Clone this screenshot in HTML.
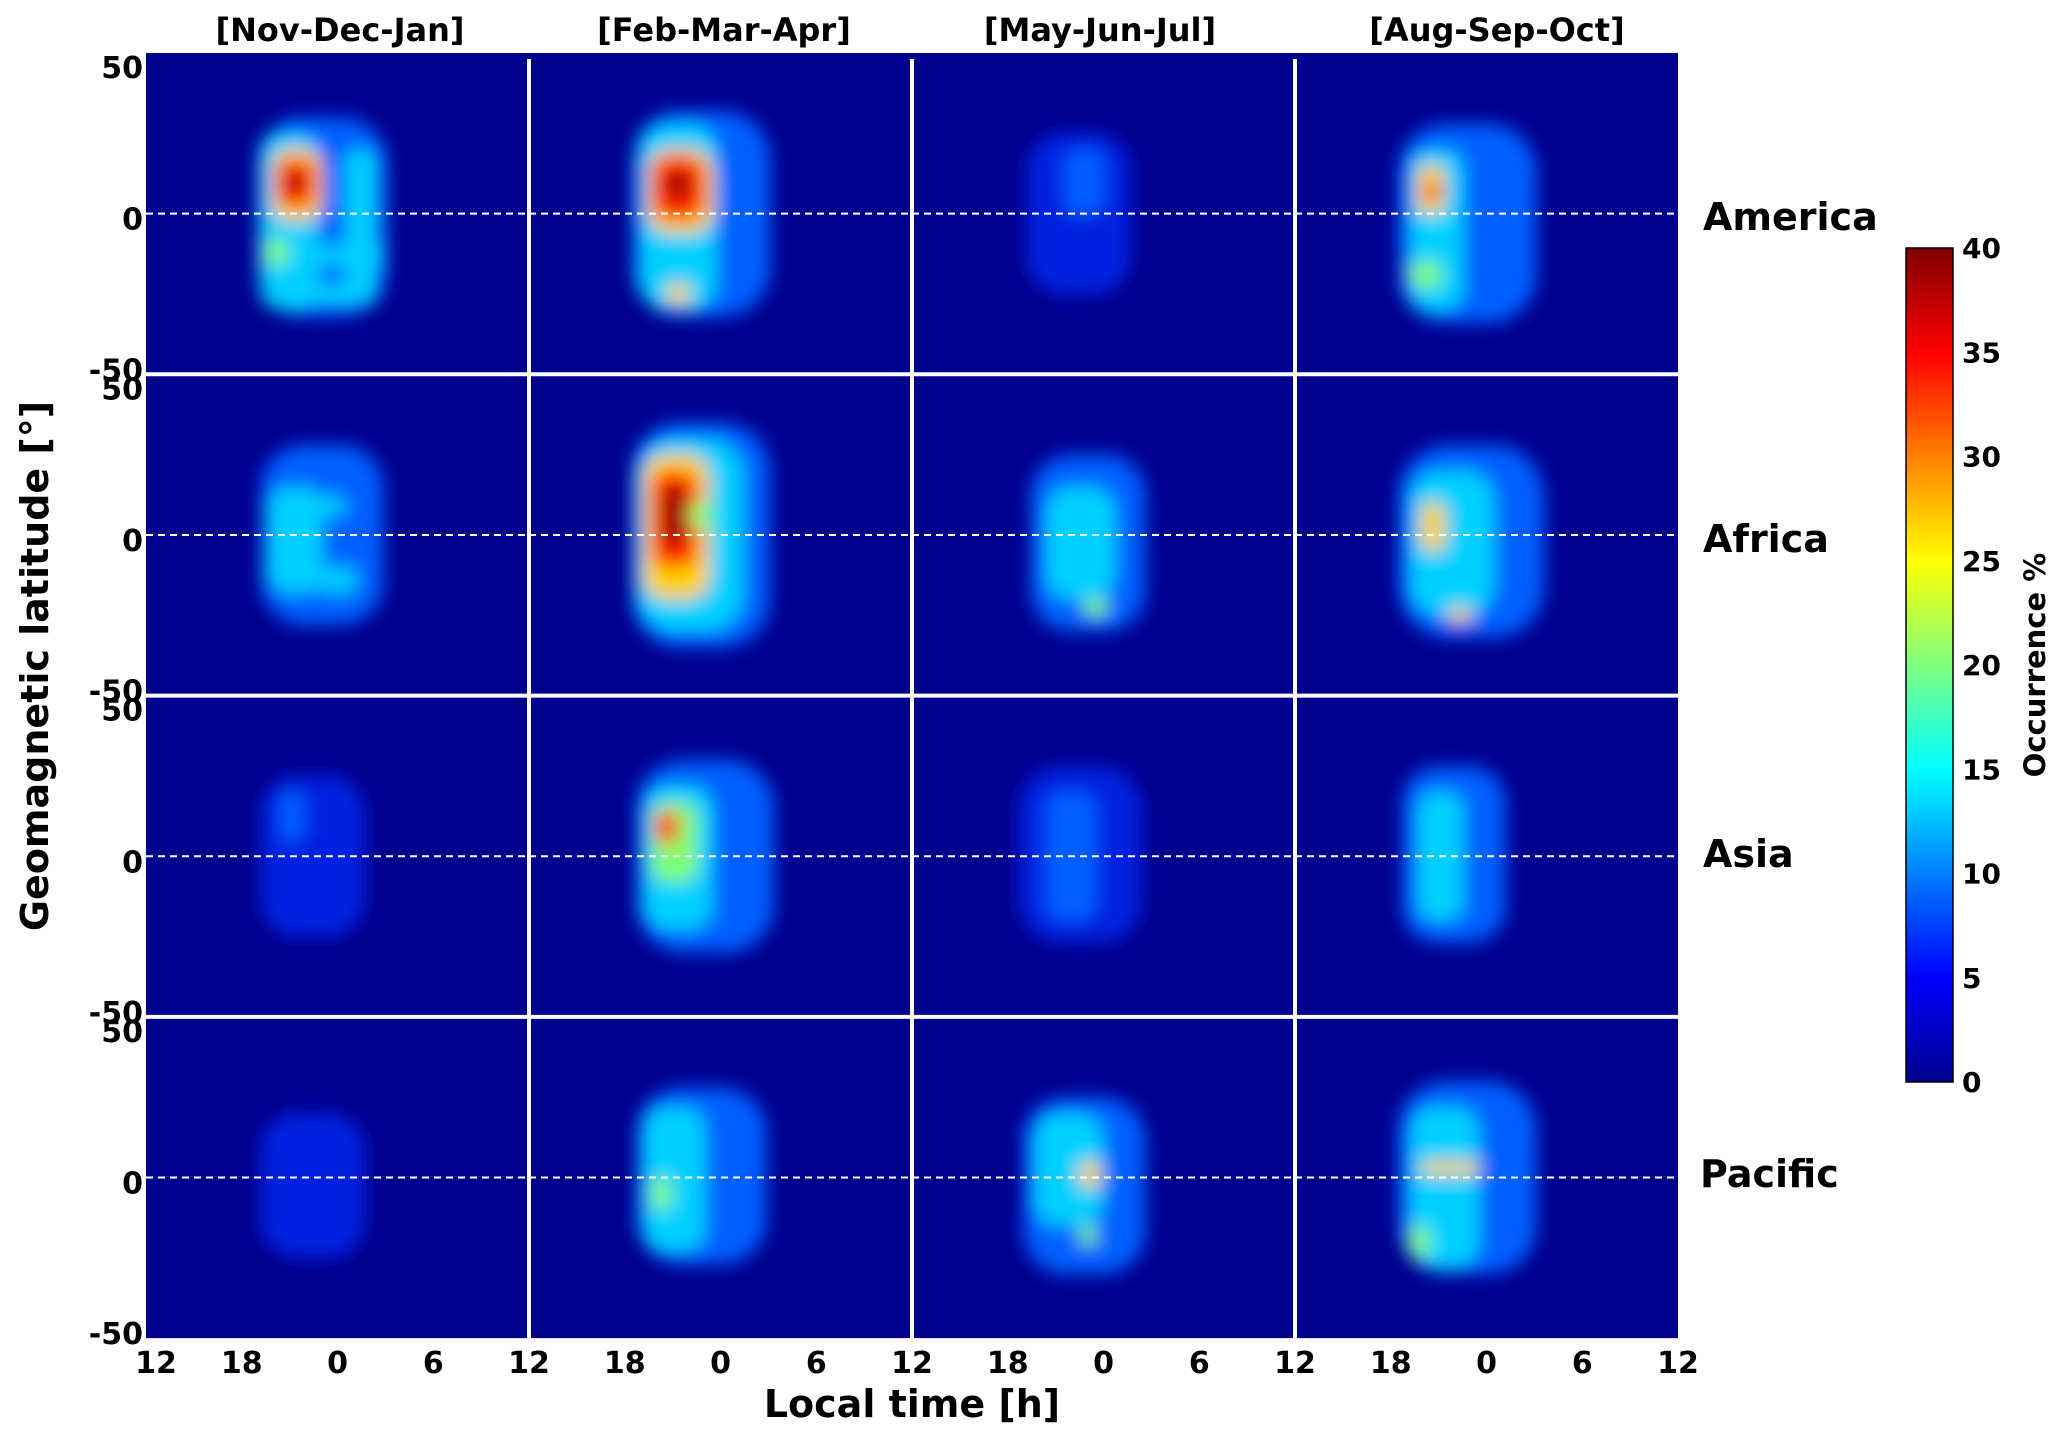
<!DOCTYPE html>
<html><head><meta charset="utf-8"><style>
body{margin:0;background:#fff;}
svg text{font-family:"DejaVu Sans","Liberation Sans",sans-serif;font-weight:bold;fill:#000;}
</style></head><body>
<svg id="s" width="2067" height="1443" xmlns="http://www.w3.org/2000/svg">
<defs>
<filter id="b" x="-50%" y="-50%" width="200%" height="200%"><feGaussianBlur stdDeviation="9"/></filter>
<linearGradient id="jet" x1="0" y1="1" x2="0" y2="0">
<stop offset="0" stop-color="#00008f"/><stop offset="0.125" stop-color="#0000ff"/>
<stop offset="0.375" stop-color="#00ffff"/><stop offset="0.625" stop-color="#ffff00"/>
<stop offset="0.875" stop-color="#ff0000"/><stop offset="1" stop-color="#800000"/></linearGradient>
</defs>
<g id="panels"></g>
<rect x="1906" y="248" width="47" height="834" fill="url(#jet)" stroke="#000" stroke-width="1.5"/>
<g id="cb" font-size="28"></g>
<text x="2045" y="665" font-size="29" text-anchor="middle" transform="rotate(-90 2045 665)">Occurrence %</text>
<text x="48" y="666" font-size="38" text-anchor="middle" transform="rotate(-90 48 666)">Geomagnetic latitude [°]</text>
<text x="912" y="1417" font-size="38" text-anchor="middle">Local time [h]</text>
<text x="1703" y="230" font-size="38">America</text>
<text x="1703" y="552" font-size="38">Africa</text>
<text x="1703" y="867" font-size="38">Asia</text>
<text x="1700" y="1187" font-size="38">Pacific</text>
<text x="340" y="41" font-size="32" text-anchor="middle">[Nov-Dec-Jan]</text>
<text x="724" y="41" font-size="32" text-anchor="middle">[Feb-Mar-Apr]</text>
<text x="1100" y="41" font-size="32" text-anchor="middle">[May-Jun-Jul]</text>
<text x="1497" y="41" font-size="32" text-anchor="middle">[Aug-Sep-Oct]</text>
</svg>
<script>
var NS="http://www.w3.org/2000/svg";
var s=document.getElementById('s'),G=document.getElementById('panels');
function el(t,a,p){var e=document.createElementNS(NS,t);for(var k in a)e.setAttribute(k,a[k]);(p||G).appendChild(e);return e;}
var C=['#00008f','#0020e0','#0060ff','#00d0ff','#80ff70','#ffd000','#ff2800','#900000'];
var P=[
[[[.29,.2,.34,.62,2],[.3,.25,.15,.55,3],[.52,.3,.08,.45,3],[.42,.6,.2,.06,3],[.3,.72,.3,.06,3],[.31,.58,.06,.08,4],[.33,.3,.13,.22,5],[.34,.33,.1,.15,6],[.37,.37,.04,.06,7]],
 [[.27,.18,.36,.64,2],[.29,.22,.2,.58,3],[.31,.3,.17,.26,5],[.32,.32,.14,.2,6],[.36,.37,.06,.08,7],[.36,.72,.06,.06,5]],
 [[.3,.25,.27,.5,1],[.4,.3,.1,.2,2]],
 [[.27,.22,.36,.62,2],[.3,.3,.14,.5,3],[.32,.35,.07,.15,5],[.34,.4,.04,.06,6],[.3,.65,.08,.08,4]]],
[[[.3,.22,.32,.56,2],[.32,.35,.14,.33,3],[.42,.38,.1,.06,3],[.45,.6,.1,.08,3]],
 [[.27,.15,.36,.7,2],[.28,.2,.28,.6,3],[.3,.25,.17,.45,5],[.32,.3,.12,.3,6],[.35,.35,.06,.18,7],[.42,.4,.06,.08,4]],
 [[.31,.25,.3,.55,2],[.35,.35,.18,.35,3],[.45,.7,.06,.05,4]],
 [[.27,.22,.38,.6,2],[.3,.3,.22,.45,3],[.33,.4,.06,.15,5],[.4,.73,.06,.04,5]]],
[[[.3,.25,.27,.5,1],[.35,.3,.06,.15,2]],
 [[.28,.2,.36,.6,2],[.3,.28,.18,.45,3],[.32,.33,.12,.25,4],[.33,.36,.06,.1,6]],
 [[.28,.22,.32,.55,1],[.35,.3,.13,.4,2]],
 [[.28,.22,.27,.55,2],[.32,.3,.12,.4,3]]],
[[[.3,.3,.27,.45,1]],
 [[.28,.22,.34,.55,2],[.3,.28,.16,.45,3],[.32,.5,.05,.1,4]],
 [[.29,.25,.32,.55,2],[.32,.3,.18,.35,3],[.44,.45,.05,.08,5],[.44,.65,.04,.06,4]],
 [[.27,.2,.36,.6,2],[.3,.28,.18,.5,3],[.33,.45,.15,.04,5],[.3,.65,.05,.1,4]]]];
var X0=146,W=383,Y0=53,H=321.3;
var defs=s.querySelector('defs');
for(var r=0;r<4;r++)for(var c=0;c<4;c++){
 var x=X0+c*W,y=Y0+r*H,id='c'+r+c;
 var cp=el('clipPath',{id:id},defs);el('rect',{x:x,y:y,width:W,height:H},cp);
 var g=el('g',{'clip-path':'url(#'+id+')'});
 el('rect',{x:x,y:y,width:W,height:H,fill:C[0]},g);
 var gb=el('g',{filter:'url(#b)'},g);
 P[r][c].forEach(function(b){el('rect',{x:x+b[0]*W,y:y+b[1]*H,width:b[2]*W,height:b[3]*H,rx:Math.min(b[2]*W,b[3]*H)*0.35,fill:C[b[4]]},gb);});
 el('line',{x1:x,x2:x+W,y1:y+H/2,y2:y+H/2,stroke:'#fff','stroke-width':2,'stroke-dasharray':'7,5'},g);
}
for(var i=1;i<4;i++){el('line',{x1:X0+i*W,x2:X0+i*W,y1:Y0+6,y2:Y0+4*H,stroke:'#fff','stroke-width':4});
 el('line',{x1:X0,x2:X0+4*W,y1:Y0+i*H,y2:Y0+i*H,stroke:'#fff','stroke-width':4});}
for(var r=0;r<4;r++){var y=Y0+r*H;
 el('text',{x:143,y:y+25,'font-size':30,'text-anchor':'end'}).textContent='50';
 el('text',{x:143,y:y+H/2+16,'font-size':30,'text-anchor':'end'}).textContent='0';
 el('text',{x:143,y:y+H+6,'font-size':30,'text-anchor':'end'}).textContent='-50';}
var tl=['12','18','0','6','12'];
for(var c=0;c<4;c++)for(var k=(c==0?0:1);k<5;k++){
 el('text',{x:X0+c*W+k*W/4+(k==0&&c==0?10:0),y:1373,'font-size':30,'text-anchor':'middle'}).textContent=tl[k];}
var cb=document.getElementById('cb');
for(var i=0;i<=8;i++){var yy=1082-i*104.25;
 el('text',{x:1962,y:yy+10},cb).textContent=(i*5)+'';}
</script>
</body></html>
